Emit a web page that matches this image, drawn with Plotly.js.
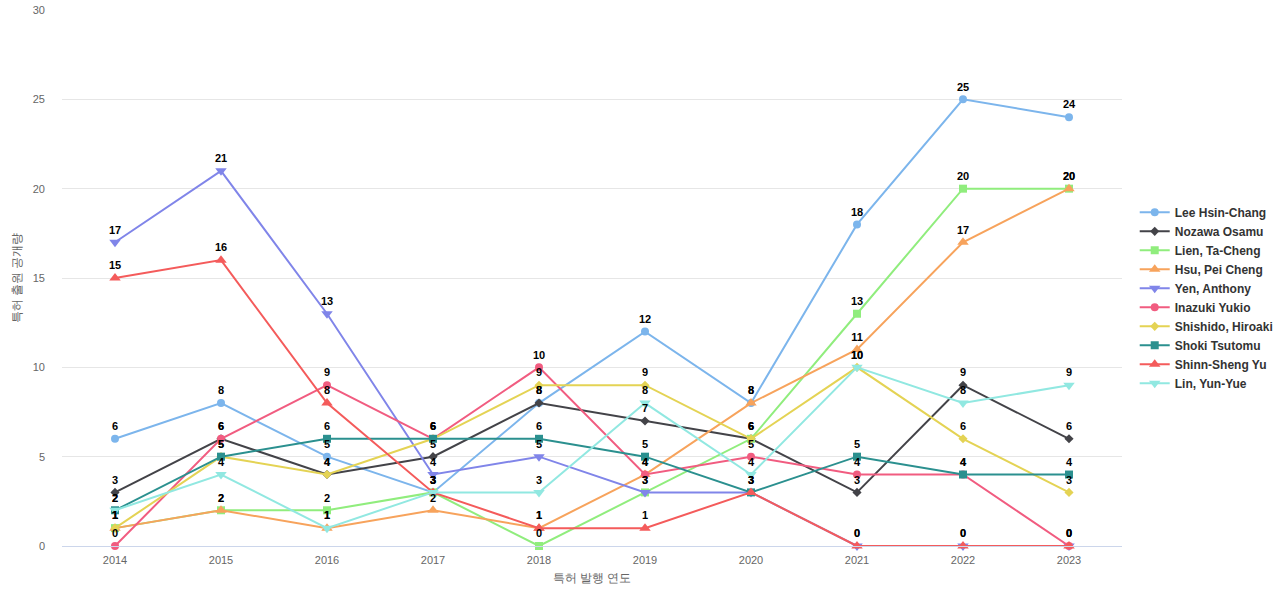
<!DOCTYPE html>
<html>
<head>
<meta charset="utf-8">
<script src="https://cdn.plot.ly/plotly-3.0.1.min.js"></script>
<style>html,body{margin:0;padding:0;background:#fff;}#chart{width:1280px;height:600px;}</style>
</head>
<body>
<div id="chart"></div>
<script>
const years = ["2014","2015","2016","2017","2018","2019","2020","2021","2022","2023"];
const seriesNames = ["Lee Hsin-Chang","Nozawa Osamu","Lien, Ta-Cheng","Hsu, Pei Cheng","Yen, Anthony","Inazuki Yukio","Shishido, Hiroaki","Shoki Tsutomu","Shinn-Sheng Yu","Lin, Yun-Yue"];
const leeHsinChang   = [6, 8, 5, 3, 8, 12, 8, 18, 25, 24];
const nozawaOsamu    = [3, 6, 4, 5, 8, 7, 6, 3, 9, 6];
const lienTaCheng    = [1, 2, 2, 3, 0, 3, 6, 13, 20, 20];
const hsuPeiCheng    = [1, 2, 1, 2, 1, 4, 8, 11, 17, 20];
const yenAnthony     = [17, 21, 13, 4, 5, 3, 3, 0, 0, 0];
const inazukiYukio   = [0, 6, 9, 6, 10, 4, 5, 4, 4, 0];
const shishidoHiroaki= [1, 5, 4, 6, 9, 9, 6, 10, 6, 3];
const shokiTsutomu   = [2, 5, 6, 6, 6, 5, 3, 5, 4, 4];
const shinnShengYu   = [15, 16, 8, 3, 1, 1, 3, 0, 0, 0];
const linYunYue      = [2, 4, 1, 3, 3, 8, 4, 10, 8, 9];
const allValues = [leeHsinChang, nozawaOsamu, lienTaCheng, hsuPeiCheng, yenAnthony, inazukiYukio, shishidoHiroaki, shokiTsutomu, shinnShengYu, linYunYue];

const colors = ["#7cb5ec","#434348","#90ed7d","#f7a35c","#8085e9","#f15c80","#e4d354","#2b908f","#f45b5b","#91e8e1"];
const symbols = ["circle","diamond","square","triangle-up","triangle-down","circle","diamond","square","triangle-up","triangle-down"];
const sizes = [8,7,8,10,10,8,7,8,10,10];

const lineTraces = seriesNames.map((name, i) => ({
  type: "scatter",
  mode: "lines+markers",
  name: name,
  x: years,
  y: allValues[i],
  line: {color: colors[i], width: 2},
  marker: {color: colors[i], symbol: symbols[i], size: sizes[i]},
  cliponaxis: false,
  hoverinfo: "x+y+name"
}));

const labelTraces = seriesNames.map((name, i) => ({
  type: "scatter",
  mode: "markers+text",
  name: name,
  x: years,
  y: allValues[i],
  text: allValues[i].map(String),
  textposition: "top center",
  textfont: {family: "Liberation Sans, Arial, sans-serif", size: 11, color: "#000", weight: "bold"},
  marker: {color: colors[i], size: 8, opacity: 0},
  showlegend: false,
  cliponaxis: false,
  hoverinfo: "skip"
}));

const layout = {
  width: 1280,
  height: 600,
  margin: {l: 62, r: 158, t: 10, b: 54, autoexpand: false},
  paper_bgcolor: "#fff",
  plot_bgcolor: "#fff",
  font: {family: "Liberation Sans, Arial, sans-serif", color: "#666"},
  xaxis: {
    type: "category",
    range: [-0.5, 9.5],
    showgrid: false,
    showline: true,
    linecolor: "#ccd6eb",
    linewidth: 1,
    ticks: "",
    ticklabelstandoff: 4,
    tickfont: {size: 11, color: "#666"},
    title: {text: "특허 발행 연도", font: {size: 12, color: "#666"}, standoff: 8},
    zeroline: false
  },
  yaxis: {
    range: [0, 30],
    dtick: 5,
    tick0: 0,
    showgrid: true,
    gridcolor: "#e6e6e6",
    zeroline: false,
    showline: false,
    ticks: "",
    ticklabelstandoff: 16,
    tickfont: {size: 11, color: "#666"},
    title: {text: "특허 출원 공개량", font: {size: 12, color: "#666"}, standoff: 8}
  },
  legend: {
    x: 1.012,
    xanchor: "left",
    y: 0.463,
    yanchor: "middle",
    font: {size: 12, color: "#333", weight: "bold"},
    tracegroupgap: 0,
    itemwidth: 30,
    bgcolor: "rgba(0,0,0,0)"
  },
  showlegend: true
};

Plotly.newPlot("chart", lineTraces.concat(labelTraces), layout, {displayModeBar: false});
</script>
</body>
</html>
